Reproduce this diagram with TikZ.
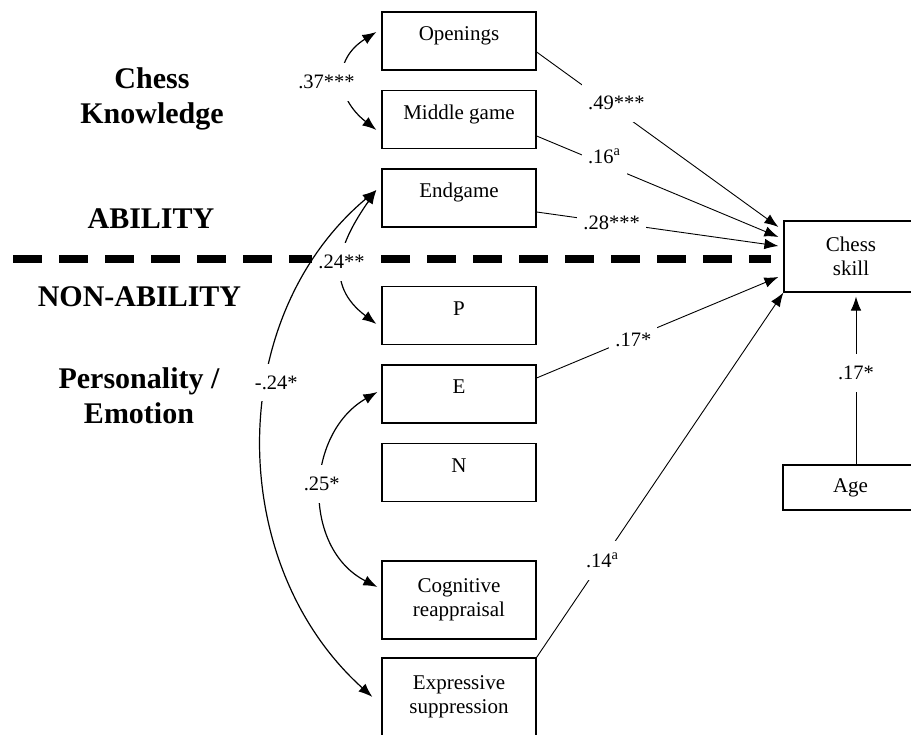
\documentclass[tikz,border=0pt]{standalone}
\usepackage{fontspec}
\setmainfont{Liberation Serif}
\usetikzlibrary{arrows.meta}
\tikzset{
  var/.style={draw, line width=1.2pt, minimum width=154pt, inner sep=0pt, font=\fontsize{21}{24}\selectfont},
  onevar/.style={var, text height=29pt, text depth=29pt},
  twovar/.style={var, minimum height=78pt, align=center},
  coef/.style={fill=white, inner xsep=6pt, inner ysep=12pt, font=\fontsize{20.5}{24}\selectfont},
  head/.style={font=\fontsize{30}{35}\selectfont\bfseries, align=center},
  effect/.style={->, line width=0.9pt},
  corr/.style={<->, line width=1.2pt},
  >={Latex[length=14pt,width=10.5pt]}
}
\begin{document}
\begin{tikzpicture}[x=1pt,y=1pt]
  \clip (0,0) rectangle (911,735);
% headings
  \node[head] (hknow) at (152,636.5) {Chess\\Knowledge};
  \node[head] (habil) at (151,516) {ABILITY};
  \node[head] (hnon) at (139.5,438) {NON-ABILITY};
  \node[head] (hpers) at (139,339) {Personality /\\Emotion};
  \draw [line width=7.5pt, dash pattern=on 29pt off 17pt] (13,476) -- (771,476);
% predictors
  \node[onevar] (open) at (459,694) {Openings};
  \node[onevar] (mid) at (459,615.5) {Middle game};
  \node[onevar] (endg) at (459,537) {Endgame};
  \node[onevar] (P) at (459,419.5) {P};
  \node[onevar] (E) at (459,341) {E};
  \node[onevar] (N) at (459,262.5) {N};
  \node[twovar] (cogn) at (459,135) {Cognitive\\reappraisal};
  \node[twovar] (expr) at (459,38) {Expressive\\suppression};
% outcome
  \node[var, minimum width=134pt, minimum height=71pt, align=center] (skill) at (851,478.5) {Chess\\skill};
  \node[var, minimum width=135pt, minimum height=45pt] (age) at (850.5,247.5) {Age};
% paths
  \draw[effect] ([yshift=-11pt]open.east) -- node[coef, pos=.33, yshift=7pt] {.49***} ([shift={(-5,29.5)}]skill.west);
  \draw[effect] ([yshift=-16.5pt]mid.east) -- node[coef, pos=.28, yshift=8pt] {.16\textsuperscript{a}} ([shift={(-5,19.5)}]skill.west);
  \draw[effect] ([yshift=-14pt]endg.east) -- node[coef, pos=.31] {.28***} ([shift={(-5,10.5)}]skill.west);
  \draw[effect] ([yshift=16pt]E.east) -- node[coef, pos=.4, yshift=-2pt] {.17*} ([shift={(-5,-20.5)}]skill.west);
  \draw[effect] (expr.north east) -- node[coef, pos=.266] {.14\textsuperscript{a}} (skill.south west);
  \draw[effect] ([xshift=5.5pt]age.north) -- node[coef, pos=.544] {.17*} ([shift={(5,-4)}]skill.south);
% correlations
  \draw[corr] ([shift={(-5,9)}]open.west) to[out=212, in=142, looseness=1.36]
    node[coef, xshift=-18pt, yshift=-2.5pt] {.37***} ([shift={(-5,-10.5)}]mid.west);
  \draw[corr] ([shift={(-5,8)}]endg.west) to[out=235, in=143, looseness=1.26]
    node[coef, xshift=-1pt] {.24**} ([shift={(-5,-8.5)}]P.west);
  \draw[corr] ([shift={(-5,8)}]endg.west) to[out=220, in=138]
    node[coef, pos=.395, xshift=9pt] {-.24*} ([shift={(-9,0)}]expr.west);
  \draw[corr] ([shift={(-4,2)}]E.west) to[out=210, in=153, looseness=1.11]
    node[coef, yshift=7pt] {.25*} ([shift={(-4,13)}]cogn.west);
\end{tikzpicture}
\end{document}
